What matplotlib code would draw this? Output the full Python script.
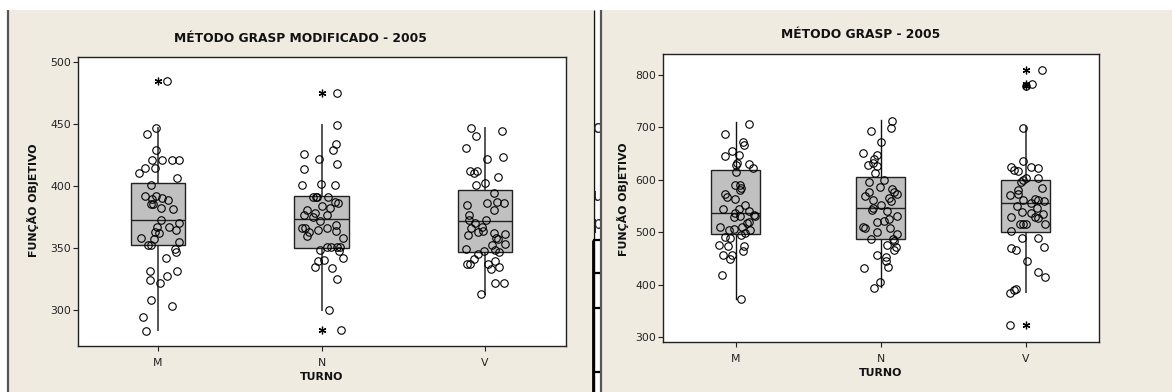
import matplotlib
matplotlib.use('Agg')
import matplotlib.pyplot as plt
from matplotlib.patches import Rectangle
from matplotlib.lines import Line2D

# ---------------- data ----------------
categories = ['M', 'N', 'V']

# Left chart: MÉTODO GRASP MODIFICADO - 2005
mod_M = [484.9, 447, 442, 429, 420.6, 420.6, 420.6, 420.6, 410.6, 414, 414, 406, 400.7, 392, 392, 389,
         390, 388.6, 385.6, 385.6, 382, 381, 372.4, 370, 367, 367, 364, 362, 362.4, 358, 356.8, 354.4,
         352, 352, 349.3, 346.8, 341.4, 331.5, 331.5, 324, 327, 321.8, 307.8, 303, 293.8, 283]
mod_M_jit = [0.057, -0.010, -0.065, -0.012, -0.035, 0.022, 0.086, 0.129, -0.118, -0.080, -0.020, 0.118,
             -0.045, -0.080, -0.012, -0.039, 0.024, 0.061, -0.045, -0.031, 0.018, 0.090, 0.020, 0.127,
             -0.006, 0.067, 0.112, 0.006, -0.020, -0.102, -0.024, 0.129, -0.061, -0.045, 0.102, 0.110,
             0.049, -0.047, 0.118, -0.047, 0.057, 0.012, -0.045, 0.082, -0.094, -0.073]
mod_N = [474.7, 449, 434, 429, 425.4, 421.4, 418, 413.9, 400.7, 401.2, 400.7, 391, 391, 391, 390.7, 387,
         385.9, 384, 380.5, 382, 378.3, 376.4, 376.2, 374.6, 372, 368, 366, 365.7, 365.7, 364.3, 363.2,
         363, 359.5, 357.9, 350.3, 350.3, 350.3, 350.3, 348.4, 347.6, 342, 340.4, 339.3, 334.7, 333.9,
         325, 300, 283.8]
mod_N_jit = [0.096, 0.096, 0.090, 0.071, -0.108, -0.018, 0.096, -0.108, -0.118, -0.004, 0.080, -0.053,
             -0.037, -0.027, 0.039, 0.080, 0.102, 0.0, -0.092, 0.051, -0.043, -0.110, 0.031, -0.053,
             -0.008, 0.088, -0.118, -0.100, 0.031, -0.020, 0.088, -0.078, -0.090, 0.129, 0.035, 0.055,
             0.096, 0.112, -0.010, 0.104, 0.129, 0.012, -0.022, -0.041, 0.065, 0.096, 0.043, 0.118]
mod_V = [446.4, 444.3, 440.2, 430.8, 421.7, 423.3, 412, 412, 410.6, 407.4, 402.5, 400.7, 394.2, 386.4,
         387.2, 386.4, 380.2, 384.2, 376.4, 372.4, 369.7, 372.4, 366.2, 367, 362.4, 363.5, 360.3, 361.6,
         361, 358.1, 356.8, 353, 352, 348.7, 347.6, 348.2, 346.8, 344.9, 340.9, 336.9, 336.9, 336.9,
         339.3, 334.7, 332.6, 321.8, 321.3, 313]
mod_V_jit = [-0.086, 0.106, -0.053, -0.116, 0.012, 0.112, -0.094, -0.049, -0.069, 0.082, 0.0, -0.055,
             0.053, 0.012, 0.073, 0.116, 0.057, -0.108, -0.100, -0.100, -0.061, 0.006, -0.088, -0.020,
             -0.041, -0.014, -0.102, 0.057, 0.120, 0.067, 0.078, 0.120, 0.043, -0.114, -0.004, 0.059,
             0.088, -0.043, -0.067, -0.108, -0.092, 0.018, 0.059, 0.088, 0.037, 0.059, 0.116, -0.022]
mod_q1 = [352, 349.8, 346.8]
mod_med = [372.1, 373, 371.6]
mod_q3 = [402, 392, 396.4]
mod_whislo = [283.6, 299.7, 313]
mod_whishi = [447, 449, 447]
mod_out = [[485], [474.7, 284], []]

# Right chart: MÉTODO GRASP - 2005
gr_M = [706.9, 686.5, 672.4, 666, 655.2, 648.2, 644.4, 631.6, 627.8, 629.7, 623.3, 614.4, 589.5, 589.5,
        580.6, 583.8, 572.9, 567.8, 562.7, 551.3, 543.6, 543.6, 535.9, 539.8, 532.8, 528.9, 530.9, 530.9,
        519.4, 516.8, 510.4, 510.4, 506.6, 504, 504, 497.7, 493.9, 490.7, 489.4, 474.1, 474.7, 473.4,
        464.5, 455.6, 455.6, 447.9, 417.9, 372.7]
gr_M_jit = [0.092, -0.071, 0.053, 0.057, -0.025, 0.021, -0.071, 0.009, 0.0, 0.092, 0.122, 0.0, -0.002,
            0.034, 0.030, 0.037, -0.074, -0.062, -0.007, 0.067, 0.023, -0.085, -0.007, 0.094, 0.129,
            -0.011, 0.030, 0.131, 0.090, 0.080, 0.044, -0.108, -0.009, -0.046, 0.097, 0.062, 0.037,
            -0.074, -0.037, 0.060, -0.117, -0.053, 0.053, -0.085, -0.025, -0.039, -0.094, 0.037]
gr_N = [712.6, 698, 692.8, 671.2, 650.8, 646.9, 639.3, 632.9, 629.1, 627.1, 613.8, 599.7, 595.3, 583.1,
        587, 577.3, 576.7, 572.9, 569.8, 565.3, 560.8, 558.9, 551.9, 545.5, 542.3, 541, 531.5, 520,
        521.3, 525.8, 510.4, 507.3, 507.3, 500.9, 496.4, 486.8, 486.2, 483.7, 474.7, 470.9, 466.4,
        455.6, 452.4, 445.4, 433.9, 432, 404.6, 393.7]
gr_N_jit = [0.080, 0.071, -0.067, 0.0, -0.122, -0.028, -0.048, -0.055, -0.090, -0.025, -0.037, 0.023,
            -0.080, 0.078, -0.002, 0.092, -0.080, 0.113, -0.108, 0.057, -0.051, 0.069, 0.0, -0.055,
            -0.057, 0.044, 0.113, -0.023, 0.025, 0.057, -0.124, -0.110, 0.064, -0.028, 0.113, -0.064,
            0.085, 0.092, 0.041, 0.108, 0.090, -0.023, 0.039, 0.039, 0.048, -0.115, -0.007, -0.046]
gr_V = [809, 782.8, 778.3, 698, 636.7, 625.2, 625.2, 623.3, 618.9, 617.6, 602.9, 602.9, 596.5, 599.7,
        583.8, 580.6, 570.4, 572.3, 564, 561.5, 560.2, 561.5, 550.6, 555.1, 545.5, 539.1, 535.9, 534.7,
        526.4, 528.3, 528.3, 515.5, 515.5, 515.5, 515.5, 502.8, 488.1, 488.1, 472.2, 469.6, 466.4,
        445.4, 424.9, 413.5, 391.8, 389.3, 384.8, 323.6]
gr_V_jit = [0.110, 0.041, 0.005, -0.021, -0.021, -0.101, 0.037, 0.083, -0.083, -0.051, 0.0, 0.087,
            -0.034, -0.016, 0.115, -0.055, -0.110, -0.051, 0.064, -0.016, 0.126, 0.083, -0.057, 0.034,
            0.076, -0.025, 0.034, 0.117, 0.085, 0.067, -0.099, 0.133, -0.039, -0.016, 0.002, -0.101,
            -0.025, 0.087, 0.126, -0.101, -0.067, 0.011, 0.087, 0.136, -0.067, -0.080, -0.110, -0.110]
gr_q1 = [495.8, 486.2, 500.9]
gr_med = [536.6, 546.2, 555.7]
gr_q3 = [619.5, 605.5, 600.4]
gr_whislo = [372.7, 394.5, 386]
gr_whishi = [709.4, 714.5, 699.9]
gr_out = [[], [], [809.6, 782.5, 778, 323.6]]

left_title = 'MÉTODO GRASP MODIFICADO - 2005'
right_title = 'MÉTODO GRASP - 2005'
y_label = 'FUNÇÃO OBJETIVO'
x_label = 'TURNO'
left_yticks = [300, 350, 400, 450, 500]
right_yticks = [300, 400, 500, 600, 700, 800]

# ---------------- figure ----------------
W, H = 1172, 392
fig = plt.figure(figsize=(W / 100, H / 100), dpi=100, facecolor='white')


def fx(x):
    return x / W


def fy(y):
    return 1 - y / H


BEIGE = '#EFEBE1'
FONT = 'DejaVu Sans'


def frect(x0, y0, x1, y1, color, z=-1):
    fig.add_artist(Rectangle((fx(x0), fy(y1)), fx(x1) - fx(x0), fy(y0) - fy(y1),
                             transform=fig.transFigure, facecolor=color, edgecolor='none', zorder=z))


def fline(x0, y0, x1, y1, color, lw, z=-0.5):
    fig.add_artist(Line2D([fx(x0), fx(x1)], [fy(y0), fy(y1)], transform=fig.transFigure,
                          color=color, lw=lw, zorder=z, solid_capstyle='butt'))


frect(8, 10, 593, 392, BEIGE)
frect(601, 10, 1172, 392, BEIGE)
fline(7.5, 10, 7.5, 392, '#555555', 1.6)
fline(593.5, 10, 593.5, 392, '#111111', 1.0)
fline(593, 240, 593, 392, '#000000', 2.0)
fline(600.5, 10, 600.5, 392, '#555555', 1.6)
for yy in [240, 273, 308, 372]:
    fline(593, yy, 600, yy, '#000000', 1.6)

# stray letters from the underlying document, clipped to the gap
ax_mid = fig.add_axes([fx(594), 0, fx(599.5) - fx(594), fy(10)])
ax_mid.set_axis_off()
for letter, yy in [('c', 128), ('u', 196), ('p', 224)]:
    t = ax_mid.text(-0.3, fy(yy) / fy(10), letter, transform=ax_mid.transAxes, fontsize=12,
                    family=FONT, va='center', ha='left', color='#222222')
    t.set_clip_on(True)
    t.set_clip_box(ax_mid.bbox)


def panel(rect_px, groups, jits, q1, med, q3, wlo, whi, outs, ylim, xlim, yticks, whisk_colors, whisk_lw):
    x0, y0, x1, y1 = rect_px
    ax = fig.add_axes([fx(x0), fy(y1), fx(x1) - fx(x0), fy(y0) - fy(y1)])
    ax.set_facecolor('white')
    stats = []
    for i in range(3):
        stats.append(dict(q1=q1[i], med=med[i], q3=q3[i], whislo=wlo[i], whishi=whi[i],
                          fliers=outs[i], label=categories[i]))
    res = ax.bxp(stats, positions=[0, 1, 2], widths=0.335, patch_artist=True, showcaps=False,
                 boxprops=dict(facecolor='#C0C0C0', edgecolor='#222222', linewidth=1.0),
                 medianprops=dict(color='#222222', linewidth=1.0),
                 flierprops=dict(marker=(6, 2, 0), markersize=5.5, markeredgecolor='black',
                                 markeredgewidth=0.9, linestyle='none'))
    for i in range(3):
        for w in res['whiskers'][2 * i:2 * i + 2]:
            w.set_color(whisk_colors[i])
            w.set_linewidth(whisk_lw[i])
            w.set_zorder(1.5)
    for i, (vals, jit) in enumerate(zip(groups, jits)):
        xs = [i + j for j in jit]
        ax.plot(xs, vals, linestyle='none', marker='o', markersize=5.4, markerfacecolor='none',
                markeredgecolor='black', markeredgewidth=0.8, zorder=3)
    ax.set_xlim(*xlim)
    ax.set_ylim(*ylim)
    ax.set_yticks(yticks)
    ax.set_xticks([0, 1, 2])
    ax.set_xticklabels(categories)
    for s in ax.spines.values():
        s.set_color('#222222')
        s.set_linewidth(1.0)
    ax.tick_params(axis='both', direction='out', length=3.5, width=0.8, color='#222222',
                   labelsize=7.8, labelcolor='#222222')
    ax.tick_params(axis='y', pad=1.5)
    ax.tick_params(axis='x', pad=5)
    for lab in ax.get_xticklabels() + ax.get_yticklabels():
        lab.set_family(FONT)
    return ax


panel((78, 57, 566, 346), [mod_M, mod_N, mod_V], [mod_M_jit, mod_N_jit, mod_V_jit],
      mod_q1, mod_med, mod_q3, mod_whislo, mod_whishi, mod_out,
      (270.7, 504), (-0.49, 2.495), left_yticks,
      ['#555555', '#555555', '#555555'], [1.4, 1.4, 1.4])

panel((663, 54, 1099, 342), [gr_M, gr_N, gr_V], [gr_M_jit, gr_N_jit, gr_V_jit],
      gr_q1, gr_med, gr_q3, gr_whislo, gr_whishi, gr_out,
      (290.4, 840), (-0.5, 2.505), right_yticks,
      ['#111111', '#111111', '#555555'], [1.0, 1.0, 1.4])

# titles and axis labels
fig.text(fx(300), fy(38), left_title, ha='center', va='center', fontsize=8.8,
         fontweight='bold', family=FONT, color='#111111')
fig.text(fx(861), fy(35), right_title, ha='center', va='center', fontsize=8.8,
         fontweight='bold', family=FONT, color='#111111')
fig.text(fx(32.5), fy(200), y_label, ha='center', va='center', rotation=90, fontsize=7.9,
         fontweight='bold', family=FONT, color='#111111')
fig.text(fx(622.5), fy(199.5), y_label, ha='center', va='center', rotation=90, fontsize=7.9,
         fontweight='bold', family=FONT, color='#111111')
fig.text(fx(322), fy(377.5), x_label, ha='center', va='center', fontsize=7.9,
         fontweight='bold', family=FONT, color='#111111')
fig.text(fx(881), fy(372.5), x_label, ha='center', va='center', fontsize=7.9,
         fontweight='bold', family=FONT, color='#111111')

fig.savefig('out.png', dpi=100, facecolor='white')
